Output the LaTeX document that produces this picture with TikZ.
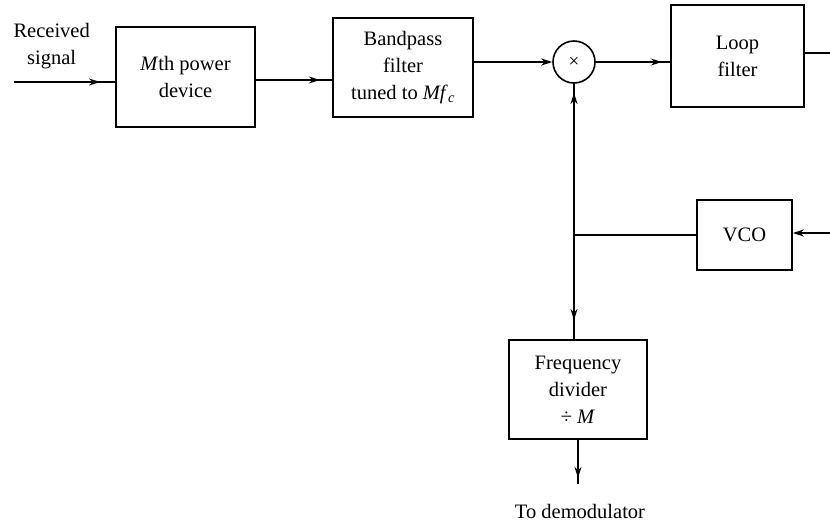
\documentclass[tikz,border=0pt]{standalone}
\usepackage{fontspec}
\setmainfont{Liberation Serif}
\usetikzlibrary{arrows.meta,decorations.markings,calc}

\tikzset{
    block/.style={draw, line width=1.6pt, minimum width=#1, align=center, font=\fontsize{20.5}{27}\selectfont},
    block/.default=139pt,
    link/.style={line width=1.6pt},
    arrowat/.style={postaction={decorate}, decoration={markings,
        mark=at position #1 with {\arrow{Stealth[length=11pt,width=7pt]}}}},
    label/.style={align=center, font=\fontsize{20.5}{27}\selectfont}
}

\begin{document}
\begin{tikzpicture}[x=1pt,y=-1pt]
    \useasboundingbox (0,0) rectangle (830,523);

    % boxes of the upper path
    \node[block=139pt, minimum height=100pt] (power) at (185.5,77) {\textit{M}th power\\device};
    \node[block=140pt, minimum height=99pt] (bpf) at (403,67.5) {Bandpass\\filter\\tuned to \textit{Mf}\textsubscript{\textit{c}}};
    \node[draw, circle, line width=1.6pt, minimum size=42pt, inner sep=0pt, font=\fontsize{19}{20}\selectfont] (mult) at (574,62) {×};
    \node[block=133pt, minimum height=102pt] (loop) at (737.5,56) {Loop\\filter};

    % feedback and output
    \node[block=95pt, minimum height=70pt] (vco) at (744.5,235) {VCO};
    \node[block=138pt, minimum height=99pt] (div) at (578,389.5) {Frequency\\divider\\÷ \textit{M}};

    \node[label, anchor=south west] (rx) at (10,72) {Received\\signal};
    \node[label] (demod) at (580,511) {To demodulator};

    \coordinate (in) at (14,82);
    \coordinate (loopout) at (830,53);
    \coordinate (vcoin) at (830,233);
    \coordinate (j) at (mult.south |- vco.west);
    \coordinate (out) at ($(div.south)+(0,44)$);

    % connectors
    \draw[link, arrowat=86pt] (in) -- (in -| power.west);
    \draw[link, arrowat=64pt] (power.east |- bpf.190) -- (bpf.190);
    \draw[link, -{Stealth[length=11pt,width=7pt]}] (bpf.east |- mult.west) -- (mult.west);
    \draw[link, arrowat=66pt] (mult.east) -- (mult.east -| loop.west);
    \draw[link] (loop.east |- loopout) -- (loopout);
    \draw[link, -{Stealth[length=11pt,width=7pt]}] (vcoin) -- (vcoin -| vco.east);
    \draw[link] (vco.west) -- (j);
    \draw[link, arrowat=142pt] (j) -- (mult.south);
    \draw[link, arrowat=85pt] (j) -- (j |- div.north);
    \draw[link, arrowat=38pt] (div.south) -- (out);
\end{tikzpicture}
\end{document}
